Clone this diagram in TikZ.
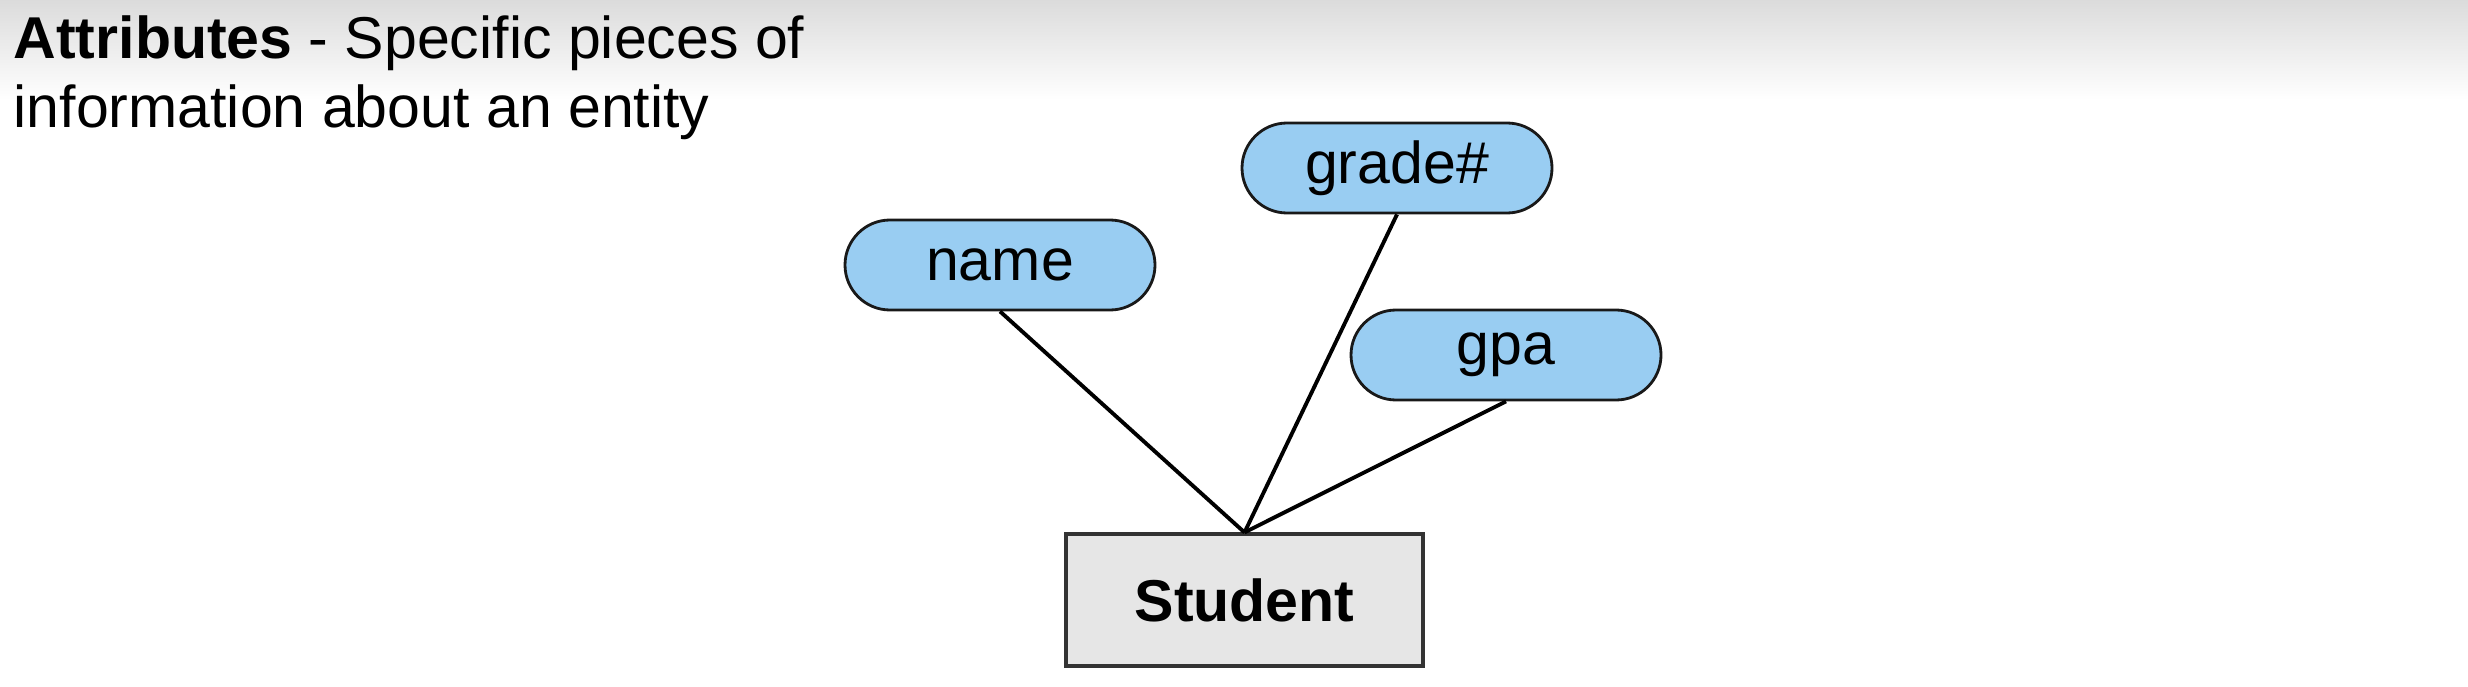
\documentclass[tikz,border=0pt]{standalone}
\usepackage{fontspec}
\setmainfont{Liberation Sans}
\usepackage{tikz}
\usetikzlibrary{positioning,calc}

\definecolor{attrblue}{RGB}{153,205,242}
\definecolor{entgray}{RGB}{230,230,230}

\begin{document}
\begin{tikzpicture}
        \tikzstyle{attr}=[draw=black!90, fill=attrblue, line width=0.8pt, minimum width=3.1cm, minimum height=0.9cm, rounded corners=0.45cm, inner sep=0pt, font=\fontsize{16.8}{20}\selectfont]
        \tikzstyle{entity}=[draw=black!80, fill=entgray, line width=0.9pt, minimum width=3.57cm, minimum height=1.32cm, inner sep=0pt, font=\fontsize{16.8}{20}\selectfont\bfseries]
        \tikzstyle{link}=[line width=1.1pt, black]

        \useasboundingbox (0,0) rectangle (24.68,-6.87);
        \shade[top color=gray!28, bottom color=white] (0,0) rectangle (24.68,-1.0);

        \node[anchor=north west, inner sep=0pt, align=left, font=\fontsize{16.8}{19.6}\selectfont] (title) at (0.13,-0.15)
            {\textbf{Attributes} - Specific pieces of\\information about an entity};

        \node[attr] (name) at (10.00,-2.65) {name};
        \node[attr] (grade) at (13.97,-1.68) {grade\#};
        \node[attr] (gpa) at (15.06,-3.55) {gpa};

        \node[entity] (student) at (12.445,-6.00) {Student};

        \draw[link] (name.south) -- (student.north);
        \draw[link] (grade.south) -- (student.north);
        \draw[link] (gpa.south) -- (student.north);
    \end{tikzpicture}
\end{document}
